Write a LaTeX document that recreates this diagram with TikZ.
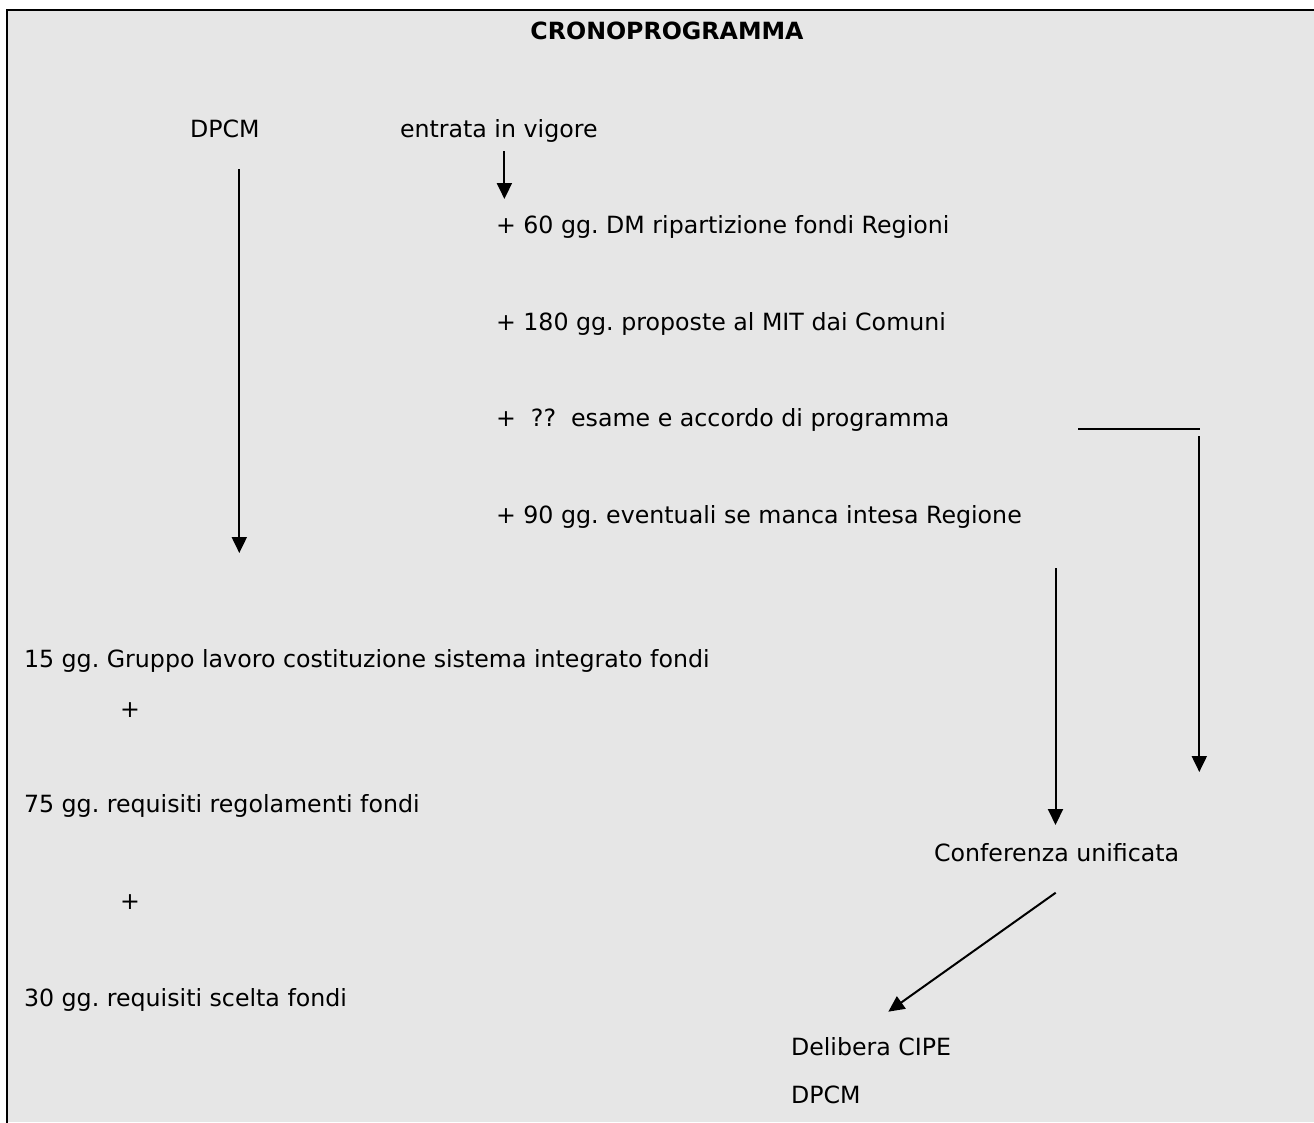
\documentclass[tikz,border=0pt]{standalone}
\usepackage{fontspec}
\setmainfont{DejaVu Sans}
\usetikzlibrary{arrows.meta}
\definecolor{bggrey}{HTML}{E6E6E6}
\tikzset{
  lbl/.style={anchor=base west, inner sep=0pt, outer sep=0pt, font=\frenchspacing\fontsize{23.7}{28}\selectfont},
  ttl/.style={anchor=base, inner sep=0pt, font=\fontsize{23.7}{28}\selectfont\bfseries},
  arr/.style={line width=2pt, -{Triangle[width=15pt,length=16pt]}},
  ln/.style={line width=2pt},
  frame/.style={line width=2pt, line cap=rect}
}
\begin{document}
\begin{tikzpicture}[x=1pt,y=-1pt]
\useasboundingbox (0,0) rectangle (1314,1122);
\fill[bggrey] (7,10) rectangle (1314,1122);
\draw[frame] (1314,10) -- (7,10) -- (7,1122);

\node[ttl] (title) at (667,39) {CRONOPROGRAMMA};
\node[lbl] (dpcm1) at (190,137) {DPCM};
\node[lbl] (entrata) at (400,137) {entrata in vigore};
\node[lbl] (r60) at (496,233) {+ 60 gg. DM ripartizione fondi Regioni};
\node[lbl] (r180) at (496,330) {+ 180 gg. proposte al MIT dai Comuni};
\node[lbl] (resame) at (496,426) {+\ \ ??\ \ esame e accordo di programma};
\node[lbl] (r90) at (496,523) {+ 90 gg. eventuali se manca intesa Regione};
\node[lbl] (g15) at (24,667) {15 gg. Gruppo lavoro costituzione sistema integrato fondi};
\node[lbl] (plus1) at (120,717) {+};
\node[lbl] (g75) at (24,812) {75 gg. requisiti regolamenti fondi};
\node[lbl] (plus2) at (120,909) {+};
\node[lbl] (g30) at (24,1006) {30 gg. requisiti scelta fondi};
\node[lbl] (conf) at (934,861) {Conferenza unificata};
\node[lbl] (cipe) at (791,1055) {Delibera CIPE};
\node[lbl] (dpcm2) at (791,1103) {DPCM};

\coordinate (a1s) at (239.3,169);
\coordinate (a1e) at (239.3,553);
\coordinate (a2s) at (504.4,151);
\coordinate (a2e) at (504.4,199);
\coordinate (hs) at (1078,429);
\coordinate (he) at (1200,429);
\coordinate (a3s) at (1199.3,436);
\coordinate (a3e) at (1199.3,772);
\coordinate (a4s) at (1055.5,568);
\coordinate (a4e) at (1055.5,825);
\coordinate (a5s) at (1055.7,892.7);
\coordinate (a5e) at (888.3,1011.7);

\draw[arr] (a1s) -- (a1e);
\draw[arr] (a2s) -- (a2e);
\draw[ln] (hs) -- (he);
\draw[arr] (a3s) -- (a3e);
\draw[arr] (a4s) -- (a4e);
\draw[arr] (a5s) -- (a5e);
\end{tikzpicture}
\end{document}
